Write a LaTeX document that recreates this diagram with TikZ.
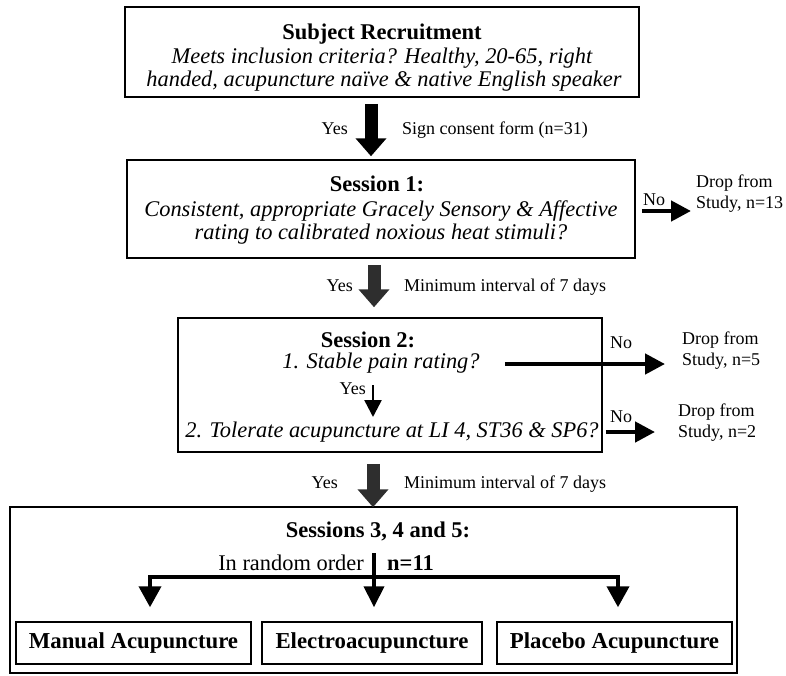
\documentclass[tikz,border=0pt]{standalone}
\usepackage{fontspec}
\setmainfont{Liberation Serif}
\usetikzlibrary{arrows.meta, calc}

\tikzset{
  box/.style={draw, line width=1.5pt, inner sep=0pt},
  boxtext/.style={font=\fontsize{22.4}{24}\selectfont, inner sep=0pt, anchor=base},
  headtext/.style={font=\fontsize{22.5}{24}\selectfont\bfseries, inner sep=0pt, anchor=base},
  lbl/.style={font=\fontsize{18}{21}\selectfont, inner sep=0pt, anchor=base},
  droptext/.style={font=\fontsize{18}{21}\selectfont, inner sep=0pt, anchor=base west, align=left},
  bigarrow/.style={line width=13pt, -{Triangle[width=30pt,length=18pt]}},
  noarrow/.style={line width=4.5pt, -{Triangle[width=20pt,length=20pt]}},
  branch/.style={line width=4pt, line join=miter},
}

\begin{document}
\begin{tikzpicture}[x=1pt,y=-1pt]
    \useasboundingbox (0,0) rectangle (786,675);
    \coordinate (axis) at (373,0);

    % boxes
    \node[box, minimum width=514pt, minimum height=90pt] (recruit) at (382,52) {};
    \node[box, minimum width=508pt, minimum height=98pt] (session1) at (381,209) {};
    \node[box, minimum width=424pt, minimum height=134pt] (session2) at (390,385) {};
    \node[box, minimum width=727pt, minimum height=166pt] (sessions) at (373.5,590) {};
    \node[box, minimum width=235pt, minimum height=42pt, font=\fontsize{22.8}{24}\selectfont\bfseries] (manual) at (133.5,643) {Manual Acupuncture};
    \node[box, minimum width=220pt, minimum height=42pt, font=\fontsize{22.8}{24}\selectfont\bfseries] (electro) at (372,643) {Electroacupuncture};
    \node[box, minimum width=235pt, minimum height=42pt, font=\fontsize{22.8}{24}\selectfont\bfseries] (placebo) at (614.5,643) {Placebo Acupuncture};

    % texts in the boxes
    \node[headtext] (recruitT) at (382,39) {Subject Recruitment};
    \node[boxtext] (meets) at (382,63) {\itshape Meets inclusion criteria? Healthy, 20-65, right};
    \node[boxtext] (handed) at (384,86) {\itshape handed, acupuncture naïve \& native English speaker};

    \node[headtext] (session1T) at (377,191) {Session 1:};
    \node[boxtext] (gracely) at (381,216) {\itshape Consistent, appropriate Gracely Sensory \& Affective};
    \node[boxtext] (heat) at (381,239) {\itshape rating to calibrated noxious heat stimuli?};

    \node[headtext] (session2T) at (368,347) {Session 2:};
    \node[boxtext] (pain) at (381,368) {\itshape 1. Stable pain rating?};
    \node[boxtext] (tolerate) at (392,437) {\itshape 2. Tolerate acupuncture at LI 4, ST36 \& SP6?};
    \node[lbl, anchor=base east] (yes3) at (366,394) {Yes};

    \node[headtext] (sessionsT) at (378,537) {Sessions 3, 4 and 5:};
    \node[boxtext, anchor=base east] (random) at (364,570) {In random order};
    \node[headtext, anchor=base west] (count) at (387,570) {n=11};

    % labels between the boxes
    \node[lbl, anchor=base east] (yes1) at (348,134) {Yes};
    \node[lbl, anchor=base west] (consent) at (402,134) {Sign consent form (n=31)};
    \node[lbl, anchor=base east] (yes2) at (353,291) {Yes};
    \node[lbl, anchor=base west] (interval1) at (404,291) {Minimum interval of 7 days};
    \node[lbl, anchor=base east] (yes4) at (338,488) {Yes};
    \node[lbl, anchor=base west] (interval2) at (404,488) {Minimum interval of 7 days};

    % drop outs
    \node[lbl] (no1) at (654,205) {No};
    \node[droptext] (drop1) at (696,208) {Drop from\\Study, n=13};
    \node[lbl] (no2) at (621,348) {No};
    \node[droptext] (drop2) at (682,365) {Drop from\\Study, n=5};
    \node[lbl] (no3) at (621,422) {No};
    \node[droptext] (drop3) at (678,437) {Drop from\\Study, n=2};

    % main arrows
    \draw[bigarrow] ($(recruit.south -| axis)+(-2,6)$) -- ($(session1.north -| axis)+(-2,-3)$);
    \draw[bigarrow, black!82] ($(session1.south -| axis)+(1,6)$) -- ($(session2.north -| axis)+(1,-10)$);
    \draw[bigarrow, black!82] ($(session2.south -| axis)+(0,11)$) -- ($(sessions.north -| axis)+(0,1)$);
    \draw[line width=2.5pt, -{Triangle[width=17pt,length=17pt]}] ($(pain.base -| axis)+(0,17)$) -- ($(tolerate.base -| axis)+(0,-20)$);

    \draw[noarrow] ($(session1.east |- drop1.base)+(6,3)$) -- ($(drop1.base west)+(-5,3)$);
    \draw[noarrow] ($(pain.base east)+(25,-4)$) -- ($(pain.base -| drop2.west)+(-17,-4)$);
    \draw[noarrow] ($(tolerate.base -| session2.east)+(3,-5)$) -- ($(tolerate.base -| drop3.west)+(-23,-5)$);

    % random order
    \coordinate (split) at (150,577);
    \coordinate (splitR) at (618,577);
    \draw[branch, {Triangle[width=22pt,length=21pt]}-{Triangle[width=22pt,length=21pt]}] ($(manual.north)+(16.5,-14)$) |- (splitR) -- ($(placebo.north)+(3.5,-14)$);
    \draw[branch, -{Triangle[width=20pt,length=21pt]}] ($(sessionsT.base -| electro.north)+(2,16)$) -- ($(electro.north)+(2,-14)$);
\end{tikzpicture}
\end{document}
